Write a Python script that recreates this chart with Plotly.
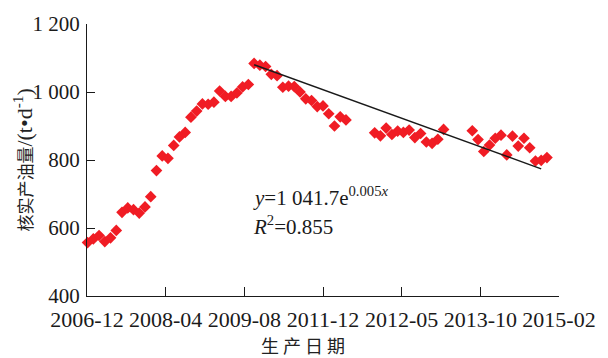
import plotly.graph_objects as go

# month index of each observation (gaps are missing months)
month_idx = list(range(0, 46)) + list(range(50, 63)) + list(range(67, 81))
oil_rate = [
    557, 568, 578, 560, 571, 593, 646, 659, 654, 644,
    662, 692, 769, 812, 805, 843, 868, 881, 926, 944,
    965, 964, 970, 1003, 987, 987, 997, 1015, 1022, 1084,
    1079, 1075, 1052, 1048, 1014, 1017, 1016, 1000, 980, 975,
    957, 959, 936, 900, 927, 918,
    880, 871, 894, 875, 885, 881, 888, 866, 878, 853,
    849, 861, 890,
    886, 860, 825, 844, 864, 873, 815, 870, 841, 864,
    836, 797, 799, 807,
]
trend_x = [29, 79]
trend_y = [1080, 774]

x_tick_vals = [-0.1, 13.6, 27.3, 41.0, 54.7, 68.4, 82.1]
x_tick_text = ["2006-12", "2008-04", "2009-08", "2011-12", "2012-05", "2013-10", "2015-02"]
y_tick_vals = [400, 600, 800, 1000, 1200]
y_tick_text = ["400", "600", "800", "1 000", "1 200"]

serif = "Liberation Serif, Times New Roman, serif"
cjk = "Noto Sans CJK SC"

fig = go.Figure()
fig.add_trace(go.Scatter(
    x=month_idx, y=oil_rate, mode="markers",
    marker=dict(symbol="diamond", size=9, color="#f01c24", line=dict(width=0)),
    showlegend=False, cliponaxis=False,
))
fig.add_trace(go.Scatter(
    x=trend_x, y=trend_y, mode="lines",
    line=dict(color="#1a1a1a", width=1.5),
    showlegend=False,
))

fig.update_layout(
    width=608, height=358,
    margin=dict(l=87, r=41, t=17, b=62),
    paper_bgcolor="white", plot_bgcolor="white",
    font=dict(family=serif, size=20, color="#1a1a1a"),
    xaxis=dict(
        range=[-0.1, 82.1], showgrid=False, zeroline=False,
        showline=True, linecolor="#1a1a1a", linewidth=1.3,
        ticks="inside", ticklen=9, tickwidth=1.3, tickcolor="#1a1a1a",
        tickvals=x_tick_vals, ticktext=x_tick_text,
        tickfont=dict(family=serif, size=22), ticklabelstandoff=3,
    ),
    yaxis=dict(
        range=[400, 1200], showgrid=False, zeroline=False,
        showline=True, linecolor="#1a1a1a", linewidth=1.3,
        ticks="inside", ticklen=8, tickwidth=1.3, tickcolor="#1a1a1a",
        tickvals=y_tick_vals, ticktext=y_tick_text,
        tickfont=dict(family=serif, size=21), ticklabelstandoff=2,
    ),
    annotations=[
        dict(xref="paper", yref="paper", x=(254 - 87) / 480, y=(358 - 62 - 194) / 279,
             xanchor="left", yanchor="middle", showarrow=False,
             text="<i>y</i>=1 041.7e<sup>0.005<i>x</i></sup>",
             font=dict(family=serif, size=21, color="#1a1a1a")),
        dict(xref="paper", yref="paper", x=(254 - 87) / 480, y=(358 - 62 - 224) / 279,
             xanchor="left", yanchor="middle", showarrow=False,
             text="<i>R</i><sup>2</sup>=0.855",
             font=dict(family=serif, size=21, color="#1a1a1a")),
        dict(xref="paper", yref="paper", x=(307 - 87) / 480, y=(358 - 62 - 346) / 279,
             xanchor="center", yanchor="middle", showarrow=False,
             text="生 产 日 期",
             font=dict(family=cjk, size=18, color="#222222")),
        dict(xref="paper", yref="paper", x=(22 - 87) / 480, y=(358 - 62 - 157) / 279,
             xanchor="center", yanchor="middle", showarrow=False, textangle=-90,
             text="<span style='font-family:Noto Sans CJK SC;font-size:17px'>核实产油量</span>/(t•d<sup>-1</sup>)",
             font=dict(family=serif, size=22, color="#222222")),
    ],
)

fig.write_html("out.html")
